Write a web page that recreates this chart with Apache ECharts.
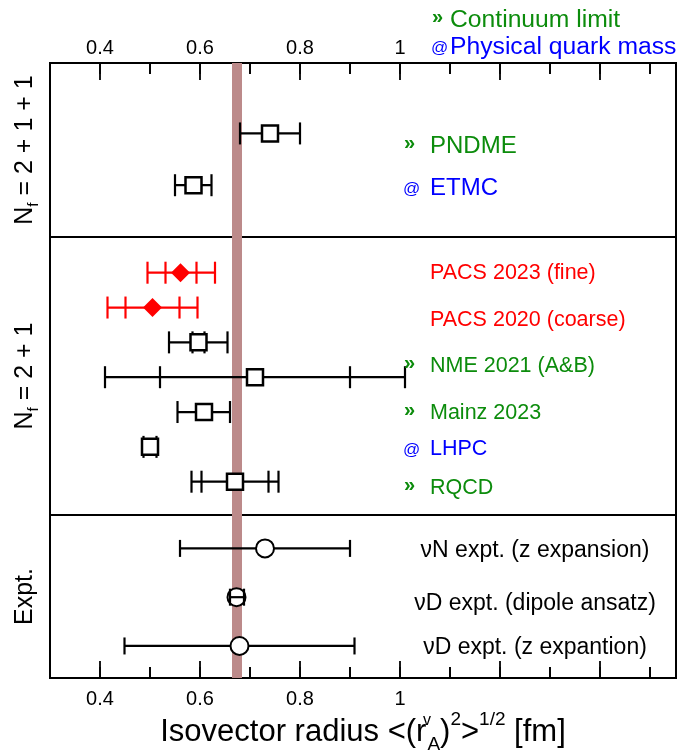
<!DOCTYPE html>
<html><head><meta charset="utf-8">
<script src="https://cdn.jsdelivr.net/npm/echarts@6/dist/echarts.min.js"></script>
<style>html,body{margin:0;padding:0;background:#fff}#c{width:679px;height:755px}</style>
</head><body><div id="c"></div>
<script>
// ---------------- DATA ----------------
const xTickLabels = ['0.4', '0.6', '0.8', '1'];
const majorTicks = [0.4, 0.6, 0.8, 1.0, 1.2, 1.4];
const minorTicks = [0.5, 0.7, 0.9, 1.1, 1.3, 1.5];
const bandRange = [0.664, 0.684];

// N_f = 2+1+1
const nf4Names = ['PNDME', 'ETMC'];
const nf4Tags = ['cont', 'phys'];
const nf4Center = [0.74, 0.587];
const nf4Lo = [0.68, 0.55];
const nf4Hi = [0.80, 0.623];

// N_f = 2+1 (points, top to bottom)
const nf3Collab = ['PACS', 'PACS', 'NME', 'NME', 'Mainz', 'LHPC', 'RQCD'];
const nf3Center = [0.561, 0.505, 0.597, 0.71, 0.608, 0.50, 0.67];
const nf3Lo = [0.495, 0.415, 0.538, 0.41, 0.555, 0.487, 0.583];
const nf3Hi = [0.630, 0.595, 0.655, 1.01, 0.66, 0.513, 0.757];
const nf3InLo = [0.531, 0.451, 0.585, 0.52, null, null, 0.603];
const nf3InHi = [0.593, 0.559, 0.609, 0.90, null, null, 0.737];
// N_f = 2+1 labels
const nf3Names = ['PACS 2023 (fine)', 'PACS 2020 (coarse)', 'NME 2021 (A&B)', 'Mainz 2023', 'LHPC', 'RQCD'];
const nf3Tags = ['none', 'none', 'cont', 'cont', 'phys', 'cont'];

// Experiment
const exptNames = ['\u03bdN expt. (z expansion)', '\u03bdD expt. (dipole ansatz)', '\u03bdD expt. (z expantion)'];
const exptCenter = [0.73, 0.673, 0.679];
const exptLo = [0.56, 0.66, 0.449];
const exptHi = [0.90, 0.688, 0.909];

const legendTexts = ['Continuum limit', 'Physical quark mass'];
const legendTags = ['cont', 'phys'];
const panelNames = ['{n|N}{f|f}{n| = 2 + 1 + 1}', '{n|N}{f|f}{n| = 2 + 1}', '{n|Expt.}'];

// ---------------- STYLE / LAYOUT ----------------
const GREEN = '#0c8c0c', BLUE = '#0000ff', RED = '#ff0000', BAND = '#bc8a8a';
const FONT = '"Liberation Sans", Arial, Helvetica, sans-serif';
const tagMark = {cont: '\u00bb', phys: '@', none: ''};
const tagColor = {cont: GREEN, phys: BLUE, none: RED};
const XMIN = 0.3, XMAX = 1.552;
const MAJOR_LEN = 17, MINOR_LEN = 11;
const grids = [
  {left: 50, right: 3, top: 63, height: 174},
  {left: 50, right: 3, top: 237, height: 278},
  {left: 50, right: 3, top: 515, height: 166}
];
const yRanges = [[-1.36, 2.0], [-1.025, 6.956], [-0.685, 2.659]];
const labelLayout = {
  nf4: {markX: 404, textX: 430, y: [146, 188], size: 24},
  nf3: {markX: 404, textX: 430, y: [273, 320, 366, 413, 449, 488], size: 21.5},
  expt: {cx: 535, y: [551, 604, 648], size: 23},
  legend: {markX: 432, textX: 450, y: [20, 47], size: 24.7}
};

// ---------------- BUILD ----------------
const fmt = v => String(Math.round(v * 10) / 10);
function xAxisCfg(gi, pos, showIt) {
  return {
    type: 'value', gridIndex: gi, position: pos, min: XMIN, max: XMAX, interval: 0.1,
    show: showIt,
    axisLine: {show: false, onZero: false}, splitLine: {show: false},
    axisTick: {show: true, inside: true, length: MINOR_LEN, lineStyle: {color: '#000', width: 1.6}},
    axisLabel: {
      show: true, color: '#000', fontFamily: FONT, fontSize: 20, margin: pos === 'top' ? 5 : 11,
      formatter: v => (xTickLabels.includes(fmt(v)) ? fmt(v) : '')
    }
  };
}
const xAxes = [xAxisCfg(0, 'top', true), xAxisCfg(1, 'bottom', false), xAxisCfg(2, 'bottom', true)];
xAxes[2].name = '{t|Isovector radius <(r}{v|v}{a|A}{t|)}{s|2}{t|>}{s|1/2}{t| [fm]}';
xAxes[2].nameLocation = 'middle';
xAxes[2].nameGap = 30;
xAxes[2].nameTextStyle = {
  color: '#000', fontFamily: FONT,
  rich: {
    t: {fontSize: 31, lineHeight: 44, fontFamily: FONT, color: '#000'},
    v: {fontSize: 16, lineHeight: 16, verticalAlign: 'top', width: 1, fontFamily: FONT, color: '#000', padding: [3, 0, 0, 0]},
    a: {fontSize: 19, lineHeight: 19, verticalAlign: 'bottom', fontFamily: FONT, color: '#000'},
    s: {fontSize: 19, lineHeight: 19, verticalAlign: 'top', fontFamily: FONT, color: '#000'}
  }
};

const yAxes = yRanges.map((r, i) => ({
  type: 'value', gridIndex: i, inverse: true, min: r[0], max: r[1],
  axisLine: {show: false}, axisTick: {show: false}, axisLabel: {show: false}, splitLine: {show: false},
  name: panelNames[i], nameLocation: 'middle', nameRotate: 90, nameGap: 9,
  nameTextStyle: {
    rich: {
      n: {fontSize: 25, lineHeight: 32, fontFamily: FONT, color: '#000'},
      f: {fontSize: 15, lineHeight: 15, verticalAlign: 'bottom', fontFamily: FONT, color: '#000'}
    }
  }
}));

function makeErr(capH, r, outside) {
  return function (params, api) {
    const row = api.value(1);
    const p = api.coord([api.value(0), row]);
    const cx = p[0], y = p[1];
    const xl = api.coord([api.value(2), row])[0];
    const xh = api.coord([api.value(3), row])[0];
    const st = {stroke: api.visual('color'), lineWidth: 2.2};
    const ch = [];
    const seg = (a, b) => ch.push({type: 'line', shape: {x1: a, y1: y, x2: b, y2: y}, style: st});
    const cap = x => ch.push({type: 'line', shape: {x1: x, y1: y - capH, x2: x, y2: y + capH}, style: st});
    if (outside && (cx - xl > r || xh - cx > r)) {
      if (cx - xl > r) seg(xl, cx - r);
      if (xh - cx > r) seg(cx + r, xh);
    } else {
      seg(xl, xh);
    }
    cap(xl); cap(xh);
    const il = api.value(4), ih = api.value(5);
    if (!isNaN(il)) cap(api.coord([il, row])[0]);
    if (!isNaN(ih)) cap(api.coord([ih, row])[0]);
    return {type: 'group', children: ch};
  };
}

function bandSeries(gi) {
  return {
    type: 'custom', xAxisIndex: gi, yAxisIndex: gi, z: 1, silent: true,
    data: [[bandRange[0], bandRange[1], 0]], encode: {x: [0, 1], y: 2},
    renderItem: (params, api) => {
      const cs = params.coordSys;
      const x1 = api.coord([api.value(0), 0])[0];
      const x2 = api.coord([api.value(1), 0])[0];
      return {type: 'rect', shape: {x: x1, y: cs.y, width: x2 - x1, height: cs.height}, style: {fill: BAND}};
    }
  };
}
// all ticks of one framed axis drawn as one group item (thin filled rects)
function tickSeries(gi, atTop) {
  return {
    type: 'custom', xAxisIndex: gi, yAxisIndex: gi, z: 20, silent: true, clip: false,
    data: [[majorTicks[0], 0]], encode: {x: 0, y: 1},
    renderItem: (params, api) => {
      const cs = params.coordSys;
      const yEdge = atTop ? cs.y : cs.y + cs.height;
      const mk = (t, len) => {
        const x = api.coord([t, 0])[0];
        return {type: 'rect', shape: {x: x - 0.9, y: atTop ? yEdge : yEdge - len, width: 1.8, height: len}, style: {fill: '#000'}};
      };
      return {type: 'group', children: majorTicks.map(t => mk(t, MAJOR_LEN)).concat(minorTicks.map(t => mk(t, MINOR_LEN)))};
    }
  };
}
const v = x => (x == null ? '-' : x);

const nf4Color = nf4Names.map(() => '#000');
const nf3Color = nf3Collab.map(c => (c === 'PACS' ? RED : '#000'));

const series = [
  bandSeries(0), bandSeries(1), bandSeries(2),
  tickSeries(0, true), tickSeries(2, false),
  // top panel
  {
    type: 'custom', xAxisIndex: 0, yAxisIndex: 0, z: 3, renderItem: makeErr(11, 8, false),
    encode: {x: [0, 2, 3], y: 1},
    data: nf4Center.map((c, i) => ({value: [c, i, nf4Lo[i], nf4Hi[i], '-', '-'], itemStyle: {color: nf4Color[i]}}))
  },
  {
    type: 'scatter', xAxisIndex: 0, yAxisIndex: 0, z: 4, symbol: 'rect', symbolSize: 16,
    itemStyle: {color: '#fff', borderColor: '#000', borderWidth: 2.5, opacity: 1}, emphasis: {disabled: true},
    data: nf4Center.map((c, i) => [c, i])
  },
  // middle panel
  {
    type: 'custom', xAxisIndex: 1, yAxisIndex: 1, z: 3, renderItem: makeErr(11, 8, false),
    encode: {x: [0, 2, 3], y: 1},
    data: nf3Center.map((c, i) => ({value: [c, i, nf3Lo[i], nf3Hi[i], v(nf3InLo[i]), v(nf3InHi[i])], itemStyle: {color: nf3Color[i]}}))
  },
  {
    type: 'scatter', xAxisIndex: 1, yAxisIndex: 1, z: 4, emphasis: {disabled: true},
    data: nf3Center.map((c, i) => (nf3Collab[i] === 'PACS'
      ? {value: [c, i], symbol: 'diamond', symbolSize: 19, itemStyle: {color: RED, borderWidth: 0, opacity: 1}}
      : {value: [c, i], symbol: 'rect', symbolSize: 16, itemStyle: {color: '#fff', borderColor: '#000', borderWidth: 2.5, opacity: 1}}))
  },
  // bottom panel
  {
    type: 'scatter', xAxisIndex: 2, yAxisIndex: 2, z: 3, symbol: 'circle', symbolSize: 18,
    itemStyle: {color: '#fff', borderColor: '#000', borderWidth: 2, opacity: 1}, emphasis: {disabled: true},
    data: exptCenter.map((c, i) => [c, i])
  },
  {
    type: 'custom', xAxisIndex: 2, yAxisIndex: 2, z: 4, renderItem: makeErr(8.5, 9, true),
    encode: {x: [0, 2, 3], y: 1},
    data: exptCenter.map((c, i) => ({value: [c, i, exptLo[i], exptHi[i], '-', '-'], itemStyle: {color: '#000'}}))
  }
];

// text labels
const graphic = [];
function txt(text, x, y, size, color, align, bold) {
  graphic.push({
    type: 'text', silent: true, z: 10,
    style: {text, x, y, fill: color, font: (bold ? 'bold ' : '') + size + 'px ' + FONT,
      textAlign: align || 'left', textVerticalAlign: 'middle'}
  });
}
function markTxt(tag, x, y) {
  if (tag === 'cont') txt(tagMark[tag], x, y - 3, 20, tagColor[tag], 'left', true);
  else if (tag === 'phys') txt(tagMark[tag], x - 1, y + 1, 17, tagColor[tag], 'left', false);
}
const L = labelLayout;
legendTexts.forEach((t, i) => {
  markTxt(legendTags[i], L.legend.markX, L.legend.y[i]);
  txt(t, L.legend.textX, L.legend.y[i], L.legend.size, tagColor[legendTags[i]]);
});
nf4Names.forEach((t, i) => {
  markTxt(nf4Tags[i], L.nf4.markX, L.nf4.y[i]);
  txt(t, L.nf4.textX, L.nf4.y[i], L.nf4.size, tagColor[nf4Tags[i]]);
});
nf3Names.forEach((t, i) => {
  markTxt(nf3Tags[i], L.nf3.markX, L.nf3.y[i]);
  txt(t, L.nf3.textX, L.nf3.y[i], L.nf3.size, tagColor[nf3Tags[i]]);
});
exptNames.forEach((t, i) => txt(t, L.expt.cx, L.expt.y[i], L.expt.size, '#000', 'center'));

const chart = echarts.init(document.getElementById('c'), null, {renderer: 'canvas'});
chart.setOption({
  backgroundColor: '#fff',
  animation: false,
  grid: grids.map(g => Object.assign({show: true, borderColor: '#000', borderWidth: 2, backgroundColor: 'transparent', containLabel: false}, g)),
  xAxis: xAxes,
  yAxis: yAxes,
  series,
  graphic
});
</script></body></html>
